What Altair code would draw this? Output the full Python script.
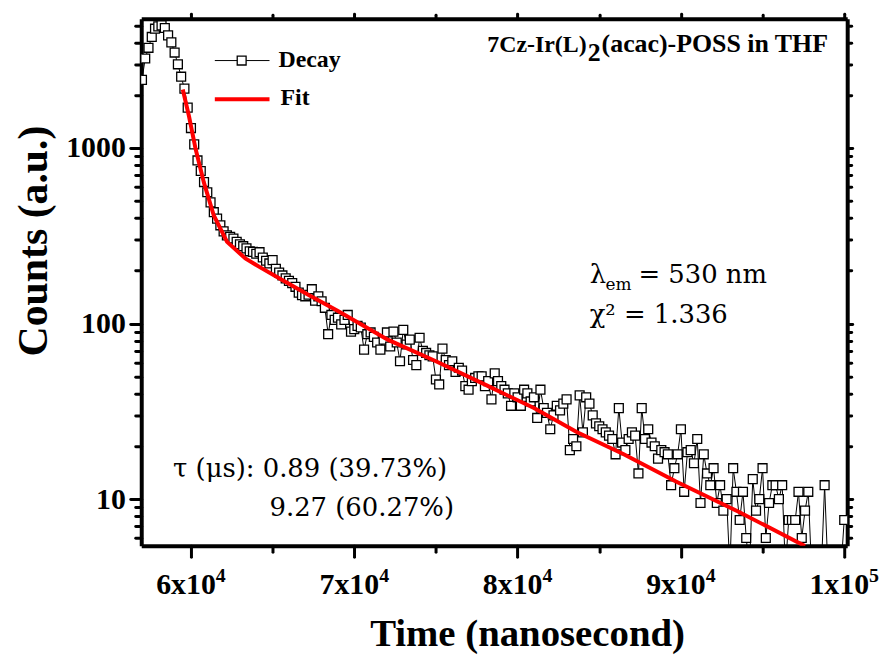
import altair as alt
import pandas as pd

# ---------------- data ----------------
time_ns = [
    57000, 57200, 57400, 57600, 57800, 58000, 58200, 58400, 58600, 58800,
    59000, 59200, 59400, 59600, 59800, 60000, 60200, 60400, 60600, 60800,
    61000, 61200, 61400, 61600, 61800, 62000, 62200, 62400, 62600, 62800,
    63000, 63200, 63400, 63600, 63800, 64000, 64200, 64400, 64600, 64800,
    65000, 65200, 65400, 65600, 65800, 66000, 66200, 66400, 66600, 66800,
    67000, 67200, 67400, 67600, 67800, 68000, 68200, 68400, 68600, 68800,
    69000, 69200, 69400, 69600, 69800, 70000, 70200, 70400, 70600, 70800,
    71000, 71200, 71400, 71600, 71800, 72000, 72200, 72400, 72600, 72800,
    73000, 73200, 73400, 73600, 73800, 74000, 74200, 74400, 74600, 74800,
    75000, 75200, 75400, 75600, 75800, 76000, 76200, 76400, 76600, 76800,
    77000, 77200, 77400, 77600, 77800, 78000, 78200, 78400, 78600, 78800,
    79000, 79200, 79400, 79600, 79800, 80000, 80200, 80400, 80600, 80800,
    81000, 81200, 81400, 81600, 81800, 82000, 82200, 82400, 82600, 82800,
    83000, 83200, 83400, 83600, 83800, 84000, 84200, 84400, 84600, 84800,
    85000, 85200, 85400, 85600, 85800, 86000, 86200, 86400, 86600, 86800,
    87000, 87200, 87400, 87600, 87800, 88000, 88200, 88400, 88600, 88800,
    89000, 89200, 89400, 89600, 89800, 90000, 90200, 90400, 90600, 90800,
    91000, 91200, 91400, 91600, 91800, 92000, 92200, 92400, 92600, 92800,
    93000, 93200, 93400, 93600, 93800, 94000, 94200, 94400, 94600, 94800,
    95000, 95200, 95400, 95600, 95800, 96000, 96200, 96400, 96600, 96800,
    97000, 97200, 97400, 97600, 97800, 98000, 98200, 98400, 98600, 98800,
    99000, 99200, 99400, 99600, 99800, 100000,
]
counts = [
    2445, 3236, 3724, 4295, 4786, 4936, 5000, 4830, 4385, 4000,
    3500, 3000, 2550, 2180,
    1700, 1300, 1050, 850, 740, 640, 560, 490, 431, 396,
    363, 335, 318, 312, 305, 292, 283, 276, 268, 258,
    256, 250, 255, 238, 228, 220, 230, 205, 195, 188,
    181, 175, 170, 162, 150, 145, 143, 146,
    157, 135, 143, 134, 123, 87, 112, 105, 108, 99,
    105, 112, 90, 93, 97, 95, 71, 87, 89, 84,
    78, 71, 81, 89, 74, 90, 78, 61, 92, 76,
    81, 62, 58, 83, 70, 68, 66, 65, 48, 45,
    72, 62, 58, 61, 53, 56, 54, 44,
    42, 47, 49, 50, 50, 44, 47, 37, 52, 47,
    44, 42, 40, 34, 40, 38, 34, 42, 40, 36,
    38, 29, 42, 33, 31, 25, 30, 34, 32, 35,
    37, 19, 22, 20, 39, 24, 38, 35, 30, 27,
    26, 25, 24, 23, 22, 18, 33, 21, 19, 22,
    24, 23, 14, 33, 22, 25, 21, 20, 17, 19,
    18.5, 18, 12, 15, 18, 25, 11, 18.5, 19, 16,
    22, 9.5, 18, 14, 12, 15, 9.5, 12, 8.6, 10,
    4, 15, 11, 7.6, 11, 6.0, 4, 13, 8.6, 10,
    15, 6.0, 9.5, 12, 12, 10, 12, 4, 7.6, 7.6,
    7.6, 11, 6.0, 8.6, 11, 4, 4, 4, 4, 12,
    4, 4, 4, 4, 4, 7.6,
]
fit_time = [59500, 59880, 60290, 60790, 61400, 62210, 63330, 64320, 65400, 67180,
            69000, 72050, 75000, 78140, 81000, 83620, 86500, 89700, 93500, 97600]
fit_counts = [2155, 1517, 984, 637, 413, 292, 235, 207, 181, 146,
              118, 81, 61, 44.3, 33, 24.1, 18, 12.6, 8.5, 5.4]

x_ticks = [60000, 65000, 70000, 75000, 80000, 85000, 90000, 95000, 100000]
x_label_vals = [60000, 70000, 80000, 90000, 100000]
x_label_base = ["6x10", "7x10", "8x10", "9x10", "1x10"]
x_label_exp = ["4", "4", "4", "4", "5"]
y_ticks = [6, 7, 8, 9, 10, 20, 30, 40, 50, 60, 70, 80, 90, 100, 200, 300, 400,
           500, 600, 700, 800, 900, 1000, 2000, 3000, 4000, 5000]

legend_labels = ["Decay", "Fit"]
title_parts = ["7Cz-Ir(L)", "2", "(acac)-POSS in THF"]
lambda_parts = ["λ", "em", "= 530 nm"]
chi_text = ["χ² = 1.336"]
tau_lines = ["τ (μs): 0.89 (39.73%)", "9.27 (60.27%)"]
x_title = "Time (nanosecond)"
y_title = "Counts (a.u.)"

# ---------------- chart ----------------
FONT = "Liberation Serif"
FONT_REG = "DejaVu Serif"
decay_df = pd.DataFrame({"time": time_ns, "counts": counts})
fit_df = pd.DataFrame({"time": fit_time, "counts": fit_counts})
xlab_df = pd.DataFrame({"v": x_label_vals, "base": x_label_base, "exp": x_label_exp})

xscale = alt.Scale(domain=[56956, 100183], nice=False, zero=False)
yscale = alt.Scale(type="log", domain=[5.42, 5450], nice=False)

major_x = "datum.value % 10000 == 0"
major_y = "datum.value == 10 || datum.value == 100 || datum.value == 1000"

common = dict(tickWidth=3, tickColor="black", tickCap="round", domainColor="black",
              domainWidth=4, grid=False)

x_bottom = alt.Axis(orient="bottom", values=x_ticks, labels=False, title=x_title,
                    titleFont=FONT, titleFontSize=39, titleFontWeight="bold",
                    titleColor="black", titleX=388, titleY=88, titleAlign="center",
                    titleBaseline="middle",
                    tickSize={"condition": {"test": major_x, "value": 11}, "value": 6},
                    **common)
y_left = alt.Axis(orient="left", values=y_ticks,
                  labelExpr=f"({major_y}) ? format(datum.value, 'd') : ''",
                  labelFont=FONT, labelFontSize=30, labelFontWeight="bold",
                  labelColor="black", labelPadding=5,
                  title=y_title, titleFont=FONT, titleFontSize=42,
                  titleFontWeight="bold", titleColor="black", titleX=-108, titleY=223,
                  titleAlign="center", titleBaseline="middle", titleAngle=270,
                  tickSize={"condition": {"test": major_y, "value": 11}, "value": 6},
                  **common)
x_top = alt.Axis(orient="top", values=x_ticks, labels=False, title=None,
                 tickSize={"condition": {"test": major_x, "value": 5}, "value": 4},
                 **common)
y_right = alt.Axis(orient="right", values=y_ticks, labels=False, title=None,
                   tickSize={"condition": {"test": major_y, "value": 5}, "value": 4},
                   **common)

base = alt.Chart(decay_df)
decay_line = base.mark_line(color="black", strokeWidth=1, clip=True).encode(
    x=alt.X("time:Q", scale=xscale, axis=x_bottom),
    y=alt.Y("counts:Q", scale=yscale, axis=y_left),
)
decay_pts = base.mark_square(size=80, fill="white", stroke="black", strokeWidth=1.3,
                             opacity=1, fillOpacity=1, clip=True).encode(
    x=alt.X("time:Q", scale=xscale, axis=x_top),
    y=alt.Y("counts:Q", scale=yscale, axis=y_right),
)
fit_line = alt.Chart(fit_df).mark_line(color="#ff0000", strokeWidth=4, clip=True).encode(
    x=alt.X("time:Q", scale=xscale, axis=None),
    y=alt.Y("counts:Q", scale=yscale, axis=None),
)

xlab_base = alt.Chart(xlab_df).mark_text(font=FONT, fontSize=30, fontWeight="bold",
                                          align="right", baseline="alphabetic", dx=25,
                                          color="black").encode(
    x=alt.X("v:Q", scale=xscale, axis=None), y=alt.value(578), text="base:N")
xlab_exp = alt.Chart(xlab_df).mark_text(font=FONT, fontSize=20, fontWeight="bold",
                                         align="left", baseline="alphabetic", dx=25,
                                         color="black").encode(
    x=alt.X("v:Q", scale=xscale, axis=None), y=alt.value(566), text="exp:N")


def txt(s, x, y, size, weight="normal", align="left", baseline="middle", font=FONT):
    return alt.Chart(pd.DataFrame({"t": [s]})).mark_text(
        font=font, fontSize=size, fontWeight=weight, align=align, baseline=baseline,
        color="black").encode(x=alt.value(x), y=alt.value(y), text="t:N")


one = pd.DataFrame({"a": [0]})
leg_line = alt.Chart(one).mark_rule(color="black", strokeWidth=1).encode(
    x=alt.value(74), x2=alt.value(129), y=alt.value(42))
leg_sq = alt.Chart(one).mark_square(size=80, fill="white", stroke="black",
                                    strokeWidth=1.3, opacity=1).encode(
    x=alt.value(101), y=alt.value(42))
leg_fit = alt.Chart(one).mark_rule(color="#ff0000", strokeWidth=4).encode(
    x=alt.value(74), x2=alt.value(129), y=alt.value(81))

layers = [
    decay_line, decay_pts, fit_line, xlab_base, xlab_exp,
    leg_line, leg_sq, leg_fit,
    txt(legend_labels[0], 138, 41, 24, "bold"),
    txt(legend_labels[1], 140, 80, 24, "bold"),
    txt(title_parts[0], 448, 33, 24, "bold", align="right", baseline="alphabetic"),
    txt(title_parts[1], 449, 42, 26, "bold", baseline="alphabetic"),
    txt(title_parts[2], 463, 33, 26, "bold", baseline="alphabetic"),
    txt(lambda_parts[0], 451, 258, 26, font=FONT_REG),
    txt(lambda_parts[1], 467, 268, 17, font=FONT_REG),
    txt(lambda_parts[2], 500, 258, 26, font=FONT_REG),
    txt(chi_text[0], 451, 298, 26, font=FONT_REG),
    txt(tau_lines[0], 32, 453, 26, font=FONT_REG),
    txt(tau_lines[1], 129, 492, 26, font=FONT_REG),
]

chart = alt.layer(*layers).properties(
    width=710, height=530,
    autosize=alt.AutoSizeParams(type="none"),
    padding={"left": 134, "top": 9, "right": 36, "bottom": 109},
    background="white",
).configure_view(stroke=None)

chart.save("out.html", embed_options={"renderer": "svg", "actions": False})
